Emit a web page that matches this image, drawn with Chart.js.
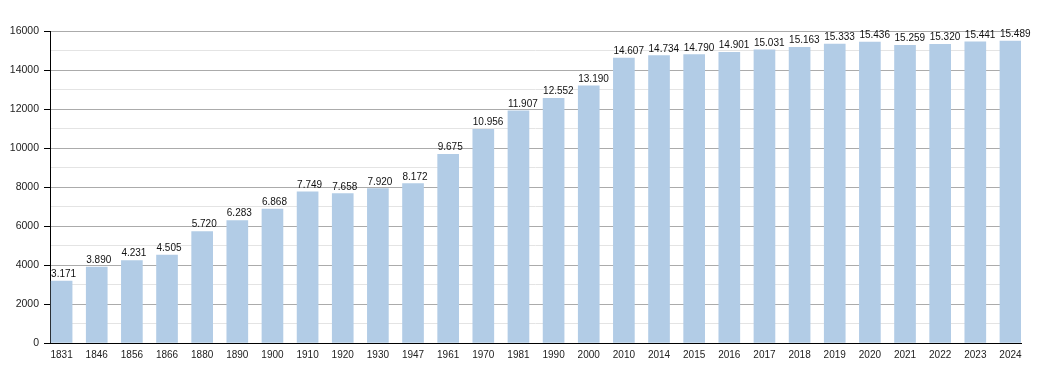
<!DOCTYPE html>
<html>
<head>
<meta charset="utf-8">
<script src="https://cdn.jsdelivr.net/npm/chart.js@4/dist/chart.umd.min.js"></script>
<style>
  html, body { margin: 0; padding: 0; background: #fff; }
</style>
</head>
<body>
<canvas id="chart" width="1050" height="373"></canvas>
<script>
	"use strict";

	// Years (categories)
	var years = ['1831','1846','1856','1866','1880','1890','1900','1910','1920','1930','1947',
		'1961','1970','1981','1990','2000','2010','2014','2015','2016','2017','2018','2019',
		'2020','2021','2022','2023','2024'];

	// Population
	var population = [3171, 3890, 4231, 4505, 5720, 6283, 6868, 7749, 7658, 7920, 8172,
		9675, 10956, 11907, 12552, 13190, 14607, 14734, 14790, 14901, 15031, 15163, 15333,
		15436, 15259, 15320, 15441, 15489];

	// Y axis
	var yMin = 0, yMax = 16000, yMajor = 2000, yMinor = 1000;

	var FONT = "'Liberation Sans', Arial, sans-serif";

	function fmt(v) {
		return String(v).replace(/\B(?=(\d{3})+(?!\d))/g, '.');
	}

	// value labels above the bars, starting at the bar's left edge
	var valueLabels = {
		id: 'valueLabels',
		afterDatasetsDraw: function (chart) {
			var ctx = chart.ctx;
			var meta = chart.getDatasetMeta(0);
			ctx.save();
			ctx.font = '10px ' + FONT;
			ctx.fillStyle = '#111';
			ctx.textAlign = 'left';
			ctx.textBaseline = 'alphabetic';
			meta.data.forEach(function (bar, i) {
				ctx.fillText(fmt(population[i]), bar.x - bar.width / 2, bar.y - 4);
			});
			ctx.restore();
		}
	};

	var points = population.map(function (v, i) { return { x: i, y: v }; });

	new Chart(document.getElementById('chart').getContext('2d'), {
		type: 'bar',
		data: {
			datasets: [{
				data: points,
				backgroundColor: '#b2cce6',
				borderWidth: 0,
				barThickness: 21,
				yAxisID: 'y'
			}]
		},
		options: {
			responsive: false,
			animation: false,
			devicePixelRatio: 1,
			layout: { padding: { left: 0, right: 29, top: 31, bottom: 0 } },
			plugins: {
				legend: { display: false },
				tooltip: { enabled: false }
			},
			scales: {
				x: {
					type: 'linear',
					offset: false,
					min: -0.33,
					max: 27.3,
					grid: { display: false, tickLength: 3 },
					border: { display: true, color: '#000', width: 1 },
					ticks: {
						padding: 3,
						autoSkip: false,
						maxRotation: 0,
						color: '#222',
						font: { family: FONT, size: 10 },
						callback: function (v) { return years[v]; }
					},
					afterBuildTicks: function (scale) {
						scale.ticks = years.map(function (_, i) { return { value: i }; });
					},
					afterFit: function (scale) { scale.height = 30; }
				},
				y: {
					position: 'left',
					min: yMin,
					max: yMax,
					grid: { color: '#ababab', tickColor: '#000', tickLength: 6 },
					border: { display: true, color: '#000', width: 1 },
					ticks: {
						stepSize: yMajor,
						padding: 5,
						color: '#222',
						font: { family: FONT, size: 10.5 },
						callback: function (v) { return String(v); }
					},
					afterFit: function (scale) { scale.width = 50; }
				},
				y2: {
					position: 'left',
					min: yMin,
					max: yMax,
					grid: {
						color: function (c) { return c.tick && c.tick.value % yMajor ? '#e4e4e4' : 'rgba(0,0,0,0)'; },
						tickColor: function (c) { return c.tick && c.tick.value % yMajor ? '#000' : 'rgba(0,0,0,0)'; },
						tickLength: 2
					},
					border: { display: false },
					ticks: { display: false, stepSize: yMinor },
					afterFit: function (scale) { scale.width = 0; }
				}
			}
		},
		plugins: [valueLabels]
	});
</script>
</body>
</html>
